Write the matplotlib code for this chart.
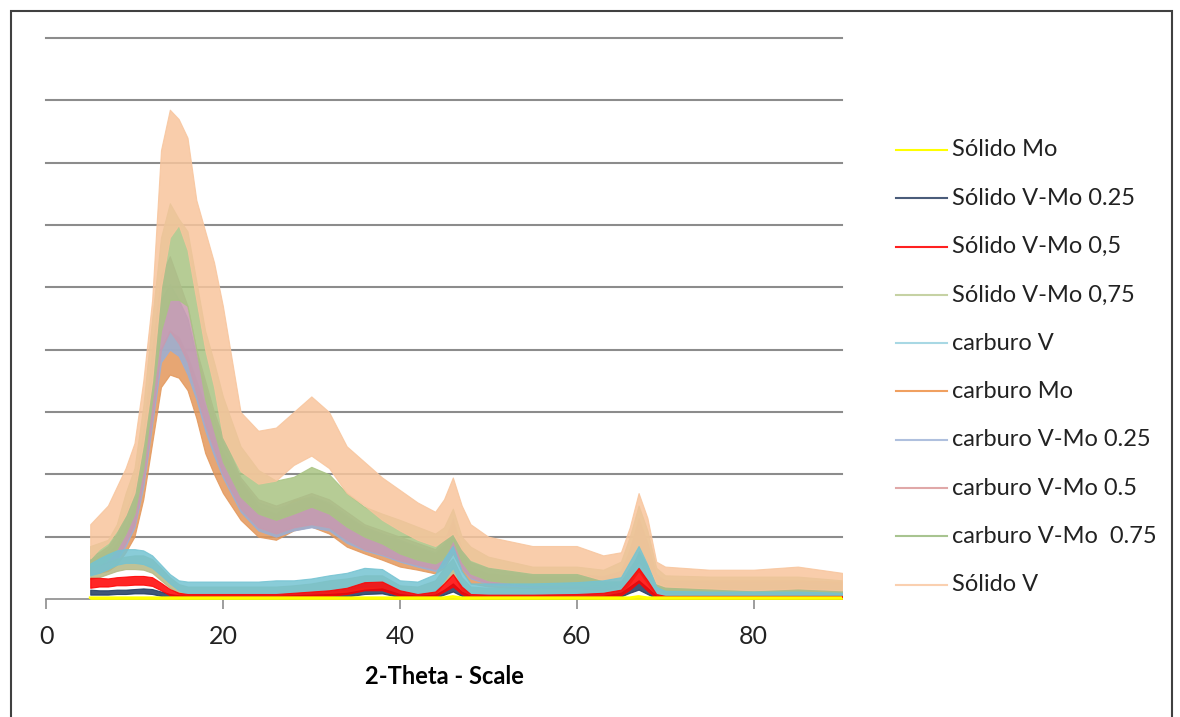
import numpy as np
import matplotlib
matplotlib.use('Agg')
import matplotlib.pyplot as plt
from matplotlib.lines import Line2D
from matplotlib.patches import Rectangle

plt.rcParams['font.family'] = ['Lato', 'DejaVu Sans']

x = [5, 6, 7, 8, 9, 10, 11, 12, 13, 14,
     15, 16, 17, 18, 19, 20, 22, 24, 26, 28,
     30, 32, 34, 36, 38, 40, 42, 44, 45, 46,
     47, 48, 50, 55, 60, 63, 65, 66, 67, 68,
     69, 70, 75, 80, 85, 90]

# each trace is a noisy band: lower / upper envelope (in gridline units)
mo_lo = [0.0] * 46
mo_hi = [0.02, 0.02, 0.02, 0.02, 0.02, 0.02, 0.02, 0.02, 0.02, 0.02,
         0.02, 0.02, 0.02, 0.02, 0.02, 0.02, 0.02, 0.02, 0.02, 0.02,
         0.02, 0.02, 0.02, 0.02, 0.02, 0.02, 0.02, 0.02, 0.02, 0.04,
         0.02, 0.02, 0.02, 0.02, 0.02, 0.02, 0.02, 0.02, 0.04, 0.02,
         0.02, 0.02, 0.02, 0.02, 0.02, 0.02]

vmo25_lo = [0.07, 0.07, 0.07, 0.08, 0.08, 0.09, 0.09, 0.08, 0.05, 0.02,
            0.01, 0.01, 0.01, 0.01, 0.01, 0.01, 0.01, 0.01, 0.01, 0.01,
            0.02, 0.03, 0.04, 0.08, 0.09, 0.03, 0.01, 0.02, 0.07, 0.12,
            0.05, 0.01, 0.0, 0.0, 0.0, 0.01, 0.04, 0.10, 0.15, 0.08,
            0.01, 0.0, 0.0, 0.0, 0.0, 0.0]
vmo25_hi = [0.15, 0.14, 0.14, 0.15, 0.15, 0.16, 0.17, 0.16, 0.12, 0.08,
            0.06, 0.05, 0.05, 0.05, 0.05, 0.05, 0.05, 0.05, 0.05, 0.06,
            0.07, 0.08, 0.10, 0.15, 0.17, 0.08, 0.05, 0.07, 0.15, 0.25,
            0.12, 0.05, 0.04, 0.04, 0.04, 0.05, 0.10, 0.20, 0.30, 0.18,
            0.05, 0.03, 0.03, 0.03, 0.03, 0.03]

vmo5_lo = [0.18, 0.20, 0.20, 0.22, 0.22, 0.23, 0.23, 0.21, 0.14, 0.06,
           0.03, 0.02, 0.02, 0.02, 0.02, 0.02, 0.02, 0.02, 0.02, 0.03,
           0.04, 0.05, 0.08, 0.14, 0.14, 0.05, 0.02, 0.04, 0.12, 0.20,
           0.08, 0.02, 0.01, 0.01, 0.02, 0.03, 0.06, 0.15, 0.27, 0.13,
           0.02, 0.01, 0.01, 0.01, 0.01, 0.01]
vmo5_hi = [0.34, 0.34, 0.33, 0.35, 0.36, 0.37, 0.37, 0.35, 0.26, 0.16,
           0.10, 0.08, 0.08, 0.08, 0.08, 0.08, 0.08, 0.08, 0.08, 0.10,
           0.12, 0.14, 0.18, 0.27, 0.28, 0.14, 0.08, 0.12, 0.25, 0.40,
           0.20, 0.08, 0.07, 0.07, 0.08, 0.10, 0.15, 0.32, 0.50, 0.30,
           0.08, 0.05, 0.05, 0.05, 0.05, 0.05]

vmo75_lo = [0.32, 0.35, 0.40, 0.45, 0.48, 0.48, 0.47, 0.42, 0.30, 0.18,
            0.08, 0.04, 0.04, 0.04, 0.04, 0.04, 0.04, 0.04, 0.04, 0.05,
            0.06, 0.08, 0.10, 0.15, 0.15, 0.05, 0.04, 0.08, 0.25, 0.40,
            0.15, 0.04, 0.04, 0.04, 0.05, 0.06, 0.10, 0.25, 0.45, 0.25,
            0.05, 0.02, 0.02, 0.02, 0.02, 0.02]
vmo75_hi = [0.50, 0.55, 0.60, 0.65, 0.68, 0.70, 0.70, 0.64, 0.50, 0.35,
            0.24, 0.20, 0.20, 0.20, 0.20, 0.20, 0.20, 0.20, 0.20, 0.22,
            0.25, 0.30, 0.33, 0.38, 0.38, 0.22, 0.20, 0.30, 0.50, 0.65,
            0.35, 0.20, 0.18, 0.18, 0.20, 0.22, 0.28, 0.50, 0.70, 0.45,
            0.15, 0.10, 0.10, 0.10, 0.10, 0.10]

cv_lo = [0.38, 0.42, 0.48, 0.55, 0.58, 0.58, 0.56, 0.50, 0.38, 0.25,
         0.14, 0.08, 0.06, 0.05, 0.05, 0.05, 0.05, 0.05, 0.06, 0.07,
         0.08, 0.12, 0.15, 0.20, 0.20, 0.06, 0.05, 0.10, 0.30, 0.50,
         0.20, 0.06, 0.05, 0.05, 0.06, 0.08, 0.12, 0.30, 0.52, 0.30,
         0.06, 0.03, 0.02, 0.02, 0.02, 0.02]
cv_hi = [0.57, 0.65, 0.72, 0.78, 0.80, 0.80, 0.78, 0.70, 0.55, 0.40,
         0.30, 0.28, 0.28, 0.28, 0.28, 0.28, 0.28, 0.28, 0.30, 0.30,
         0.33, 0.38, 0.42, 0.50, 0.48, 0.30, 0.28, 0.40, 0.65, 0.85,
         0.45, 0.25, 0.25, 0.25, 0.27, 0.30, 0.35, 0.60, 0.85, 0.55,
         0.20, 0.13, 0.12, 0.12, 0.12, 0.10]

cmo_lo = [0.41, 0.42, 0.45, 0.55, 0.75, 1.00, 1.60, 2.50, 3.40, 3.60,
          3.55, 3.35, 2.90, 2.34, 2.00, 1.70, 1.27, 1.00, 0.95, 1.10,
          1.16, 1.05, 0.84, 0.73, 0.63, 0.52, 0.47, 0.41, 0.50, 0.73,
          0.45, 0.25, 0.20, 0.17, 0.17, 0.14, 0.20, 0.40, 0.63, 0.40,
          0.15, 0.09, 0.09, 0.09, 0.09, 0.09]
cmo_hi = [0.63, 0.65, 0.72, 0.90, 1.15, 1.50, 2.20, 3.20, 4.00, 4.30,
          4.20, 3.90, 3.50, 3.08, 2.70, 2.35, 1.90, 1.48, 1.37, 1.59,
          1.64, 1.53, 1.32, 1.16, 1.05, 0.95, 0.84, 0.73, 0.85, 1.20,
          0.75, 0.52, 0.41, 0.36, 0.36, 0.30, 0.40, 0.80, 1.30, 0.90,
          0.35, 0.30, 0.30, 0.30, 0.30, 0.28]

c25_lo = [0.40, 0.42, 0.48, 0.62, 0.85, 1.15, 1.80, 2.80, 3.80, 4.00,
          3.90, 3.60, 3.20, 2.70, 2.30, 1.95, 1.40, 1.10, 1.00, 1.10,
          1.15, 1.10, 0.90, 0.78, 0.70, 0.60, 0.52, 0.45, 0.52, 0.80,
          0.50, 0.33, 0.24, 0.19, 0.19, 0.17, 0.20, 0.38, 0.60, 0.40,
          0.17, 0.10, 0.09, 0.09, 0.09, 0.08]
c25_hi = [0.65, 0.70, 0.80, 1.00, 1.30, 1.70, 2.50, 3.70, 4.80, 5.05,
          4.80, 4.50, 3.90, 3.40, 2.90, 2.50, 1.90, 1.55, 1.45, 1.55,
          1.65, 1.55, 1.35, 1.15, 1.05, 0.95, 0.85, 0.75, 0.90, 1.30,
          0.80, 0.58, 0.48, 0.38, 0.38, 0.35, 0.45, 0.80, 1.20, 0.85,
          0.38, 0.28, 0.26, 0.26, 0.26, 0.23]

c5_lo = [0.40, 0.45, 0.50, 0.65, 0.90, 1.20, 1.90, 2.90, 4.00, 4.30,
         4.10, 3.80, 3.30, 2.80, 2.40, 2.00, 1.45, 1.15, 1.05, 1.15,
         1.20, 1.15, 0.95, 0.80, 0.72, 0.62, 0.55, 0.48, 0.55, 0.75,
         0.50, 0.35, 0.25, 0.20, 0.20, 0.18, 0.22, 0.40, 0.60, 0.40,
         0.18, 0.10, 0.10, 0.10, 0.10, 0.08]
c5_hi = [0.70, 0.75, 0.85, 1.05, 1.40, 1.80, 2.70, 4.00, 5.20, 5.50,
         5.10, 4.70, 4.00, 3.50, 3.00, 2.60, 1.95, 1.60, 1.50, 1.60,
         1.70, 1.60, 1.40, 1.20, 1.10, 1.00, 0.90, 0.80, 0.95, 1.25,
         0.80, 0.60, 0.50, 0.40, 0.40, 0.37, 0.45, 0.80, 1.25, 0.90,
         0.40, 0.30, 0.28, 0.28, 0.28, 0.25]

c75_lo = [0.45, 0.55, 0.63, 0.80, 1.05, 1.37, 2.10, 3.20, 4.30, 4.80,
          4.80, 4.70, 4.00, 3.20, 2.70, 2.20, 1.64, 1.37, 1.27, 1.37,
          1.48, 1.37, 1.16, 1.00, 0.89, 0.73, 0.63, 0.57, 0.65, 0.95,
          0.60, 0.41, 0.30, 0.22, 0.22, 0.20, 0.25, 0.45, 0.63, 0.45,
          0.20, 0.12, 0.12, 0.12, 0.12, 0.10]
c75_hi = [0.85, 0.90, 0.95, 1.20, 1.70, 2.10, 3.10, 4.50, 5.80, 6.35,
          6.10, 5.90, 5.10, 4.30, 3.80, 3.25, 2.45, 2.07, 1.90, 1.96,
          2.12, 2.00, 1.70, 1.48, 1.37, 1.27, 1.16, 1.05, 1.15, 1.45,
          1.00, 0.84, 0.68, 0.52, 0.52, 0.47, 0.60, 1.00, 1.50, 1.10,
          0.50, 0.38, 0.36, 0.36, 0.36, 0.30]

sv_lo = [0.65, 0.80, 0.90, 1.10, 1.35, 1.70, 2.50, 3.50, 5.00, 5.80,
         6.00, 5.60, 4.80, 4.00, 3.40, 2.60, 2.05, 1.85, 1.90, 2.15,
         2.30, 2.10, 1.70, 1.50, 1.27, 1.10, 0.95, 0.85, 0.95, 1.05,
         0.80, 0.63, 0.52, 0.42, 0.42, 0.30, 0.30, 0.47, 0.80, 0.57,
         0.25, 0.20, 0.17, 0.14, 0.17, 0.14]
sv_hi = [1.20, 1.35, 1.50, 1.80, 2.10, 2.50, 3.50, 4.80, 7.20, 7.85,
         7.70, 7.40, 6.40, 5.90, 5.40, 4.70, 3.00, 2.70, 2.75, 3.00,
         3.25, 3.00, 2.45, 2.20, 1.95, 1.75, 1.55, 1.40, 1.60, 1.95,
         1.50, 1.20, 1.00, 0.85, 0.85, 0.70, 0.75, 1.15, 1.70, 1.30,
         0.60, 0.52, 0.47, 0.47, 0.52, 0.42]

labels = ['Sólido Mo', 'Sólido V-Mo 0.25', 'Sólido V-Mo 0,5', 'Sólido V-Mo 0,75',
          'carburo V', 'carburo Mo', 'carburo V-Mo 0.25', 'carburo V-Mo 0.5',
          'carburo V-Mo  0.75', 'Sólido V']
lows = [mo_lo, vmo25_lo, vmo5_lo, vmo75_lo, cv_lo, cmo_lo, c25_lo, c5_lo, c75_lo, sv_lo]
highs = [mo_hi, vmo25_hi, vmo5_hi, vmo75_hi, cv_hi, cmo_hi, c25_hi, c5_hi, c75_hi, sv_hi]
colors = ['#FFFF00', '#1F3A60', '#FF0000', '#B4B884', '#74C3D2',
          '#E3975A', '#9AAFD6', '#C99AAE', '#A9C483', '#F8C59D']
leg_colors = ['#FFFF00', '#4A5C7A', '#FF2020', '#C6D2A4', '#A8D8E4',
              '#F0A060', '#AFC0DE', '#E0A8A8', '#A8C490', '#FAD0B0']
# thin traces near the baseline show through the others in the original
zorders = [6, 5, 5, 3, 3, 2, 2, 2, 2, 2]

fig = plt.figure(figsize=(11.8, 7.17), dpi=100)
ax = fig.add_axes([46 / 1180, 118 / 717, 796 / 1180, 561 / 717])

for lo, hi, c, z in zip(lows, highs, colors, zorders):
    ax.fill_between(x, lo, hi, color=c, lw=0.8, edgecolor=c, alpha=0.85, zorder=z)
ax.plot(x, mo_hi, color='#FFFF00', lw=2, zorder=6)

ax.set_xlim(0, 90)
ax.set_ylim(0, 9)
ax.set_yticks(range(1, 10))
ax.yaxis.grid(True, color='#8C8C8C', lw=1.5, zorder=0)
for gl in ax.get_ygridlines():
    gl.set_clip_on(False)
ax.tick_params(axis='y', left=False, labelleft=False)
ax.set_xticks([0, 20, 40, 60, 80])
ax.tick_params(axis='x', direction='out', length=7, width=1.2, color='#8C8C8C',
               labelsize=18, pad=12, labelcolor='#222222')
for s in ['top', 'right', 'left']:
    ax.spines[s].set_visible(False)
ax.spines['bottom'].set_color('#8C8C8C')
ax.spines['bottom'].set_linewidth(1.2)
ax.set_xlabel('2-Theta - Scale', fontsize=17, fontweight='bold', labelpad=12)

# legend on the right
for i, (lab, c) in enumerate(zip(labels, leg_colors)):
    yy = 1 - (150 + i * 48.3) / 717
    fig.add_artist(Line2D([896 / 1180, 947 / 1180], [yy, yy], color=c, lw=1.5))
    fig.text(952 / 1180, yy, lab, fontsize=17, va='center', ha='left', color='#222222')

# chart area border
fig.add_artist(Rectangle((11 / 1180, -0.01), 1161 / 1180, 1 - 11 / 717 + 0.01,
                         fill=False, edgecolor='#404040', lw=1.5,
                         transform=fig.transFigure))

fig.savefig('out.png', dpi=100)
